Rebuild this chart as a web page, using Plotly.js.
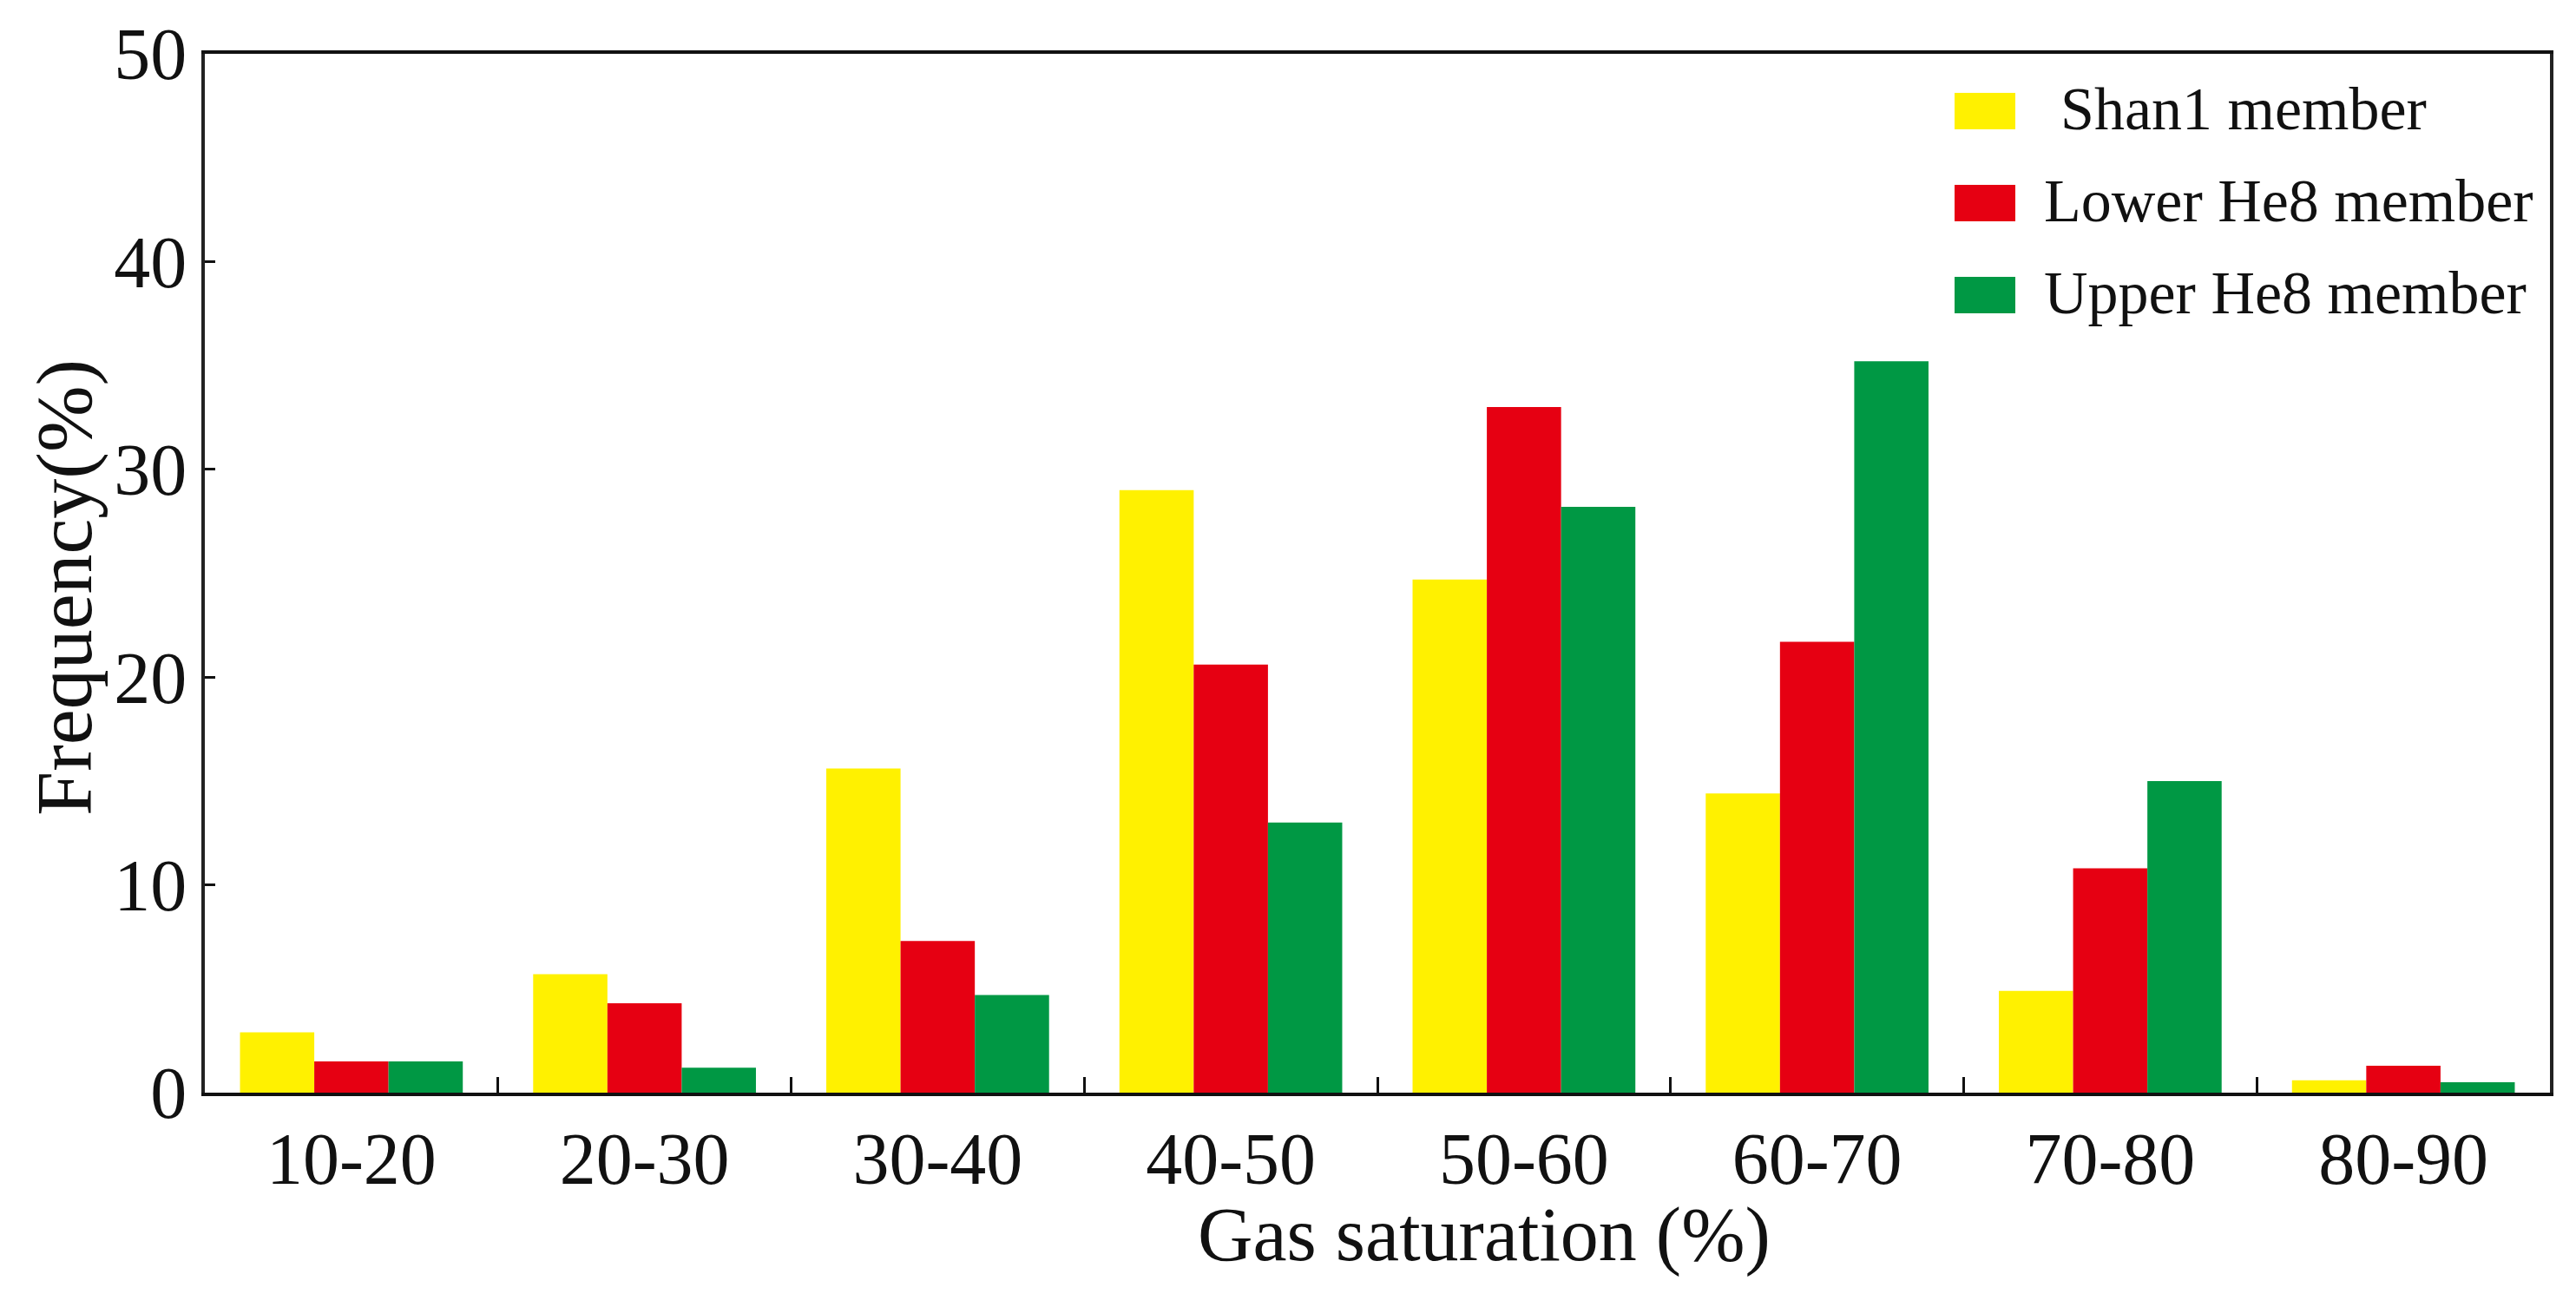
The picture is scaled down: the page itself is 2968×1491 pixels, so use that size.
<!DOCTYPE html>
<html>
<head>
<meta charset="utf-8">
<script src="https://cdn.plot.ly/plotly-3.0.1.min.js"></script>
<style>html,body{margin:0;padding:0;background:#fff;}#chart{width:2968px;height:1491px;}</style>
</head>
<body>
<div id="chart"></div>
<script>
// Data
const categories = ["10-20", "20-30", "30-40", "40-50", "50-60", "60-70", "70-80", "80-90"];
const shan1 = [2.9, 5.7, 15.6, 29.0, 24.7, 14.4, 4.9, 0.6];
const lowerHe8 = [1.5, 4.3, 7.3, 20.6, 33.0, 21.7, 10.8, 1.3];
const upperHe8 = [1.5, 1.2, 4.7, 13.0, 28.2, 35.2, 15.0, 0.5];
const seriesNames = ["Shan1 member", "Lower He8 member", "Upper He8 member"];
const seriesColors = ["#FFF100", "#E60012", "#009844"];
const yTicks = [0, 10, 20, 30, 40, 50];

const FONT = "Liberation Serif, Times New Roman, serif";
const W = 2968, H = 1491;
const M = {l: 236, r: 30, t: 62, b: 232};
const PW = W - M.l - M.r, PH = H - M.t - M.b;
const px2x = p => (p - M.l) / PW;
const px2y = p => (H - M.b - p) / PH;

const seriesValues = [shan1, lowerHe8, upperHe8];
const traces = seriesValues.map((vals, i) => ({
  type: "bar",
  x: categories,
  y: vals,
  name: seriesNames[i],
  marker: {color: seriesColors[i], line: {width: 0}},
  showlegend: false,
  hoverinfo: "x+y+name"
}));

// Manual legend (large swatches like the reference)
const rowY = [128, 234, 340];
const textX = [2372, 2353, 2353];
const shapes = [];
const annotations = [];
rowY.forEach((yc, i) => {
  shapes.push({
    type: "rect", xref: "paper", yref: "paper",
    x0: px2x(2252), x1: px2x(2322),
    y0: px2y(yc + 21), y1: px2y(yc - 21),
    fillcolor: seriesColors[i], line: {width: 0}
  });
  annotations.push({
    xref: "paper", yref: "paper",
    x: px2x(textX[i]), y: px2y(yc - 3),
    xanchor: "left", yanchor: "middle",
    text: seriesNames[i], showarrow: false,
    font: {family: FONT, size: 70, color: "#111"}
  });
});

// Axis titles
annotations.push({
  xref: "paper", yref: "paper",
  x: px2x(1710), y: px2y(1422),
  xanchor: "center", yanchor: "middle",
  text: "Gas saturation (%)", showarrow: false,
  font: {family: FONT, size: 88, color: "#111"}
});
annotations.push({
  xref: "paper", yref: "paper",
  x: px2x(74), y: px2y(677),
  xanchor: "center", yanchor: "middle", textangle: -90,
  text: "Frequency(%)", showarrow: false,
  font: {family: FONT, size: 92, color: "#111"}
});

const layout = {
  width: W, height: H,
  margin: M,
  paper_bgcolor: "#fff", plot_bgcolor: "#fff",
  barmode: "group",
  bargap: 0.24,
  bargroupgap: 0,
  font: {family: FONT, color: "#111"},
  xaxis: {
    type: "category",
    categoryarray: categories,
    tickson: "boundaries",
    ticks: "inside", ticklen: 18, tickwidth: 3, tickcolor: "#111",
    showline: true, linecolor: "#111", linewidth: 4,
    mirror: true,
    showgrid: false, zeroline: false,
    tickfont: {family: FONT, size: 84, color: "#111"},
    ticklabelstandoff: 0
  },
  yaxis: {
    range: [0, 50],
    tickvals: yTicks,
    ticktext: yTicks.map(String),
    ticks: "inside", ticklen: 12, tickwidth: 3, tickcolor: "#111",
    showline: true, linecolor: "#222", linewidth: 4,
    mirror: true,
    showgrid: false, zeroline: false,
    tickfont: {family: FONT, size: 84, color: "#111"},
    ticklabelstandoff: 0,
    ticklabeloverflow: "allow"
  },
  shapes: shapes,
  annotations: annotations
};

Plotly.newPlot("chart", traces, layout, {displayModeBar: false, staticPlot: true});
</script>
</body>
</html>
